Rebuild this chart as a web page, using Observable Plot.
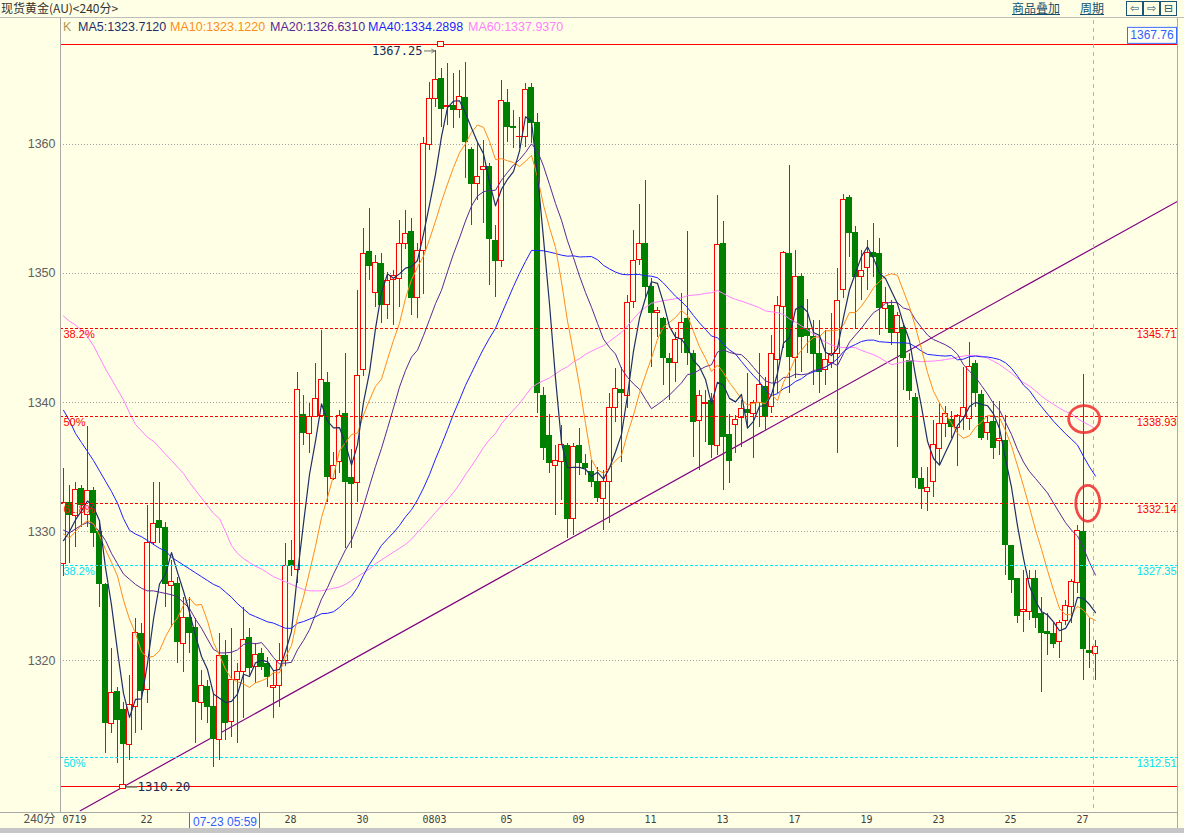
<!DOCTYPE html>
<html><head><meta charset="utf-8">
<script src="https://cdn.jsdelivr.net/npm/d3@7"></script>
<script src="https://cdn.jsdelivr.net/npm/@observablehq/plot@0.6"></script>
<style>
html,body{margin:0;padding:0;background:#FFFFE6;}
#wrap{position:relative;width:1184px;height:833px;overflow:hidden;background:#FFFFE6;font-family:"Liberation Sans",Arial,sans-serif;}
#wrap svg{position:absolute;left:0;top:0;}
.abs{position:absolute;white-space:nowrap;}
.hdr{left:0;top:0;width:1184px;height:17px;border-bottom:1px solid #bdbdbd;}
.title{left:1px;top:0px;font:12px "Noto Sans CJK SC",sans-serif;color:#333;line-height:15px;}
.lnk{top:0px;font:12px "Noto Sans CJK SC",sans-serif;color:#17506e;line-height:15px;text-decoration:underline;}
.ico{top:1px;width:15px;height:13px;border:1px solid #1d5574;font:11px "DejaVu Sans",sans-serif;color:#1d5574;line-height:13px;text-align:center;}
.leg{top:19px;font-size:12.5px;line-height:16px;}
.vline{background:#a9a9a9;width:1px;}
.hline{background:#a9a9a9;height:1px;}
</style></head>
<body>
<div id="wrap"></div>
<script>
// ---- candle data (240-minute bars) ----
const open = [1327.49,1332.28,1331.24,1333.35,1331.31,1333.17,1330.02,1325.86,1315.09,1317.59,
1316.2,1313.46,1316.38,1322.06,1317.72,1329.09,1330.85,1330.28,1325.81,1325.99,
1321.29,1323.3,1322.58,1316.71,1318.01,1316.46,1313.85,1320.38,1315.22,1318.5,
1319.14,1321.75,1319.48,1320.51,1319.79,1317.88,1318.01,1320.0,1327.75,1327.0,
1339.07,1337.52,1338.91,1338.99,1341.57,1334.04,1335.37,1339.13,1334.16,1333.74,
1342.53,1351.73,1348.5,1350.75,1347.57,1349.53,1349.58,1352.3,1353.25,1348.09,
1351.78,1359.97,1363.54,1365.09,1362.9,1363.02,1362.69,1363.67,1359.58,1356.95,
1358.03,1358.29,1352.56,1350.95,1363.28,1361.39,1360.55,1360.57,1364.39,1361.73,
1340.54,1337.44,1335.06,1335.38,1336.67,1330.98,1336.67,1335.25,1334.68,1333.88,
1332.53,1333.83,1339.56,1340.98,1340.49,1347.78,1351.06,1352.35,1348.99,1346.95,
1346.49,1343.44,1343.05,1344.94,1346.49,1343.83,1338.56,1339.89,1340.15,1336.59,
1352.35,1337.52,1338.22,1338.76,1339.43,1339.12,1339.95,1341.24,1339.64,1343.31,
1347.44,1351.52,1343.44,1349.79,1345.71,1345.14,1343.77,1342.53,1343.05,1343.77,
1348.73,1355.87,1353.2,1349.72,1350.44,1351.65,1351.52,1347.26,1347.52,1345.38,
1345.79,1343.26,1340.36,1334.09,1333.05,1333.83,1336.41,1338.35,1338.66,1338.04,
1338.87,1338.74,1343.0,1340.62,1337.63,1338.53,1337.04,1337.06,1328.92,1326.33,
1323.8,1323.75,1326.33,1323.62,1322.25,1322.12,1321.42,1323.1,1324.14,1326.0,
1330.03,1320.78,1320.52];
const high = [1334.86,1333.57,1333.83,1333.6,1338.14,1333.4,1330.85,1326.0,1320.9,1317.9,
1316.77,1318.83,1323.23,1322.84,1332.01,1333.82,1333.82,1330.72,1327.75,1326.46,
1324.9,1324.9,1323.23,1319.22,1318.44,1317.41,1322.06,1321.55,1322.45,1319.74,
1324.13,1322.45,1321.29,1320.9,1320.25,1319.22,1321.34,1329.05,1329.3,1342.35,
1340.54,1339.9,1343.05,1345.58,1342.35,1336.15,1339.38,1343.77,1336.34,1348.68,
1353.46,1355.01,1351.39,1351.52,1350.1,1350.23,1354.1,1354.88,1354.24,1352.3,
1360.57,1364.83,1367.29,1365.86,1366.25,1365.48,1365.73,1366.38,1359.8,1360.05,
1360.3,1358.5,1353.72,1364.96,1364.24,1362.63,1362.1,1364.7,1364.75,1362.43,
1341.19,1339.1,1336.67,1338.2,1336.8,1336.8,1337.96,1336.0,1335.5,1335.0,
1334.73,1340.67,1342.61,1342.7,1348.3,1353.33,1355.35,1357.2,1349.6,1347.4,
1346.61,1343.77,1345.45,1348.42,1353.28,1344.03,1340.93,1340.93,1340.67,1356.05,
1354.06,1339.1,1338.99,1340.15,1342.22,1340.15,1343.77,1341.96,1345.2,1348.22,
1351.73,1358.37,1351.78,1349.97,1347.96,1346.36,1346.36,1345.58,1346.93,1350.36,
1356.12,1356.05,1353.64,1351.78,1352.56,1353.85,1352.69,1348.94,1347.91,1347.0,
1345.97,1343.77,1340.67,1335.0,1334.99,1338.6,1339.9,1339.7,1339.3,1339.07,
1342.74,1344.68,1343.26,1340.93,1338.87,1340.08,1340.08,1339.0,1328.92,1326.33,
1326.98,1326.98,1326.98,1324.91,1323.62,1322.85,1323.1,1324.65,1326.26,1330.47,
1342.17,1323.23,1321.55];
const low = [1326.5,1327.5,1328.78,1330.3,1330.28,1328.78,1324.13,1312.76,1314.31,1311.98,
1310.2,1312.24,1314.31,1314.57,1316.64,1328.91,1329.04,1324.13,1322.58,1319.74,
1319.09,1320.51,1313.54,1315.34,1315.09,1311.73,1312.24,1313.79,1314.05,1313.54,
1315.47,1318.83,1318.19,1319.22,1317.93,1315.47,1316.38,1319.5,1326.5,1326.0,
1336.67,1336.02,1338.8,1338.9,1332.28,1333.96,1334.47,1328.66,1328.66,1332.28,
1342.0,1349.46,1347.4,1346.1,1346.4,1345.97,1347.39,1351.83,1346.74,1346.48,
1348.4,1359.5,1362.9,1361.34,1361.47,1361.21,1361.99,1357.34,1353.72,1355.66,
1353.9,1349.07,1348.16,1350.49,1360.18,1359.66,1359.66,1359.79,1360.05,1339.17,
1335.5,1334.47,1331.24,1332.4,1329.43,1329.69,1334.34,1334.34,1333.44,1332.28,
1330.08,1330.6,1338.48,1335.38,1339.51,1347.26,1350.62,1348.17,1342.74,1345.07,
1341.32,1340.16,1341.58,1343.77,1342.87,1335.76,1334.73,1336.93,1335.63,1335.9,
1333.18,1333.7,1336.02,1336.54,1338.09,1335.63,1338.09,1337.83,1339.12,1340.67,
1344.16,1340.67,1341.84,1342.35,1343.77,1341.32,1340.67,1341.32,1342.61,1336.02,
1348.04,1351.27,1345.71,1347.91,1348.68,1349.72,1345.2,1345.71,1344.42,1336.54,
1340.93,1340.15,1333.31,1331.7,1331.55,1332.66,1335.2,1337.3,1337.2,1335.04,
1337.83,1337.83,1339.64,1337.06,1337.06,1335.56,1335.9,1326.59,1325.17,1322.9,
1322.2,1323.1,1322.46,1317.55,1320.39,1320.91,1320.13,1322.72,1322.85,1325.17,
1318.45,1319.36,1318.45];
const close = [1332.22,1331.24,1333.23,1332.0,1333.17,1329.87,1325.86,1315.09,1317.49,1315.34,
1313.46,1316.56,1322.11,1317.62,1329.12,1330.59,1330.2,1325.86,1326.07,1321.42,
1323.3,1322.06,1316.77,1318.01,1316.38,1313.85,1320.33,1315.14,1318.5,1319.14,
1321.6,1319.4,1320.44,1319.48,1318.65,1318.06,1319.94,1327.36,1327.28,1340.98,
1337.57,1338.91,1340.28,1341.76,1334.21,1335.04,1338.99,1333.83,1333.62,1342.09,
1351.52,1350.57,1350.83,1347.52,1349.4,1349.84,1352.25,1353.07,1348.09,1351.78,
1360.05,1363.54,1365.01,1362.69,1362.95,1362.63,1363.67,1360.18,1356.9,1357.47,
1358.24,1352.63,1350.95,1363.36,1361.34,1361.21,1360.6,1364.24,1361.6,1340.67,
1336.41,1335.25,1335.5,1336.67,1330.9,1336.54,1335.25,1334.86,1333.83,1332.53,
1333.83,1339.56,1341.06,1340.67,1347.7,1350.96,1352.25,1348.94,1346.93,1347.06,
1343.44,1343.05,1344.86,1346.15,1343.77,1338.48,1340.54,1340.0,1336.67,1352.17,
1337.31,1335.45,1338.66,1339.51,1339.12,1339.95,1341.32,1338.86,1343.77,1347.47,
1351.6,1343.52,1349.72,1345.07,1345.12,1343.7,1342.35,1343.26,1343.77,1347.85,
1355.71,1353.13,1349.72,1350.23,1351.58,1351.27,1347.26,1347.7,1345.33,1346.67,
1343.44,1340.88,1334.08,1333.23,1333.39,1336.72,1338.3,1339.12,1338.04,1338.92,
1339.59,1342.79,1340.73,1337.24,1338.4,1336.46,1337.14,1328.92,1326.21,1323.41,
1323.88,1326.33,1323.28,1322.12,1322.02,1321.24,1322.9,1324.19,1326.08,1330.03,
1320.83,1320.57,1321.04];

// ---- moving-average lines ----
const ma5 = [1329.3,1330.0,1330.9,1331.6,1332.37,1331.90,1330.83,1327.20,1324.30,1320.73,
1317.45,1315.59,1316.99,1317.02,1319.77,1323.20,1325.93,1326.68,1328.37,1326.83,
1325.37,1323.74,1321.92,1320.31,1319.30,1317.41,1317.07,1316.74,1316.84,1317.39,
1318.94,1318.76,1319.82,1320.01,1319.91,1319.21,1319.31,1320.70,1322.26,1326.72,
1330.63,1334.42,1337.00,1339.90,1338.55,1338.04,1338.06,1336.77,1335.14,1336.71,
1340.01,1342.33,1345.73,1348.51,1349.97,1349.63,1349.97,1350.42,1350.53,1351.01,
1353.05,1355.31,1357.69,1360.61,1362.85,1363.36,1363.39,1362.42,1361.27,1360.17,
1359.29,1357.08,1355.24,1356.53,1357.30,1357.90,1359.49,1362.15,1361.80,1357.66,
1352.70,1347.63,1341.89,1336.90,1334.95,1334.97,1334.97,1334.84,1334.28,1334.60,
1334.06,1334.92,1336.16,1337.53,1340.56,1343.99,1346.53,1348.10,1349.36,1349.23,
1347.72,1345.88,1345.07,1344.91,1344.25,1343.26,1342.76,1341.79,1339.89,1341.57,
1341.34,1340.32,1340.05,1340.62,1338.01,1338.54,1339.71,1339.75,1340.60,1342.27,
1344.60,1345.04,1347.22,1347.48,1347.01,1345.43,1345.19,1343.90,1343.64,1344.19,
1346.59,1348.74,1350.04,1351.33,1352.07,1351.19,1350.01,1349.61,1348.63,1347.65,
1346.08,1344.80,1342.08,1339.66,1337.00,1335.66,1335.14,1336.15,1337.11,1338.22,
1338.79,1339.69,1340.01,1339.85,1339.75,1339.12,1337.99,1335.63,1333.43,1330.43,
1327.91,1325.75,1324.62,1323.80,1323.53,1323.00,1322.31,1322.49,1323.29,1324.89,
1324.81,1324.34,1323.71];
const ma10 = [1329.8,1329.5,1330.0,1330.5,1330.85,1330.6,1329.7,1328.6,1327.6,1326.55,
1324.68,1323.21,1322.10,1320.66,1320.25,1320.32,1320.76,1321.84,1322.69,1323.30,
1324.29,1324.84,1324.30,1324.34,1323.07,1321.39,1320.41,1319.33,1318.58,1318.35,
1318.18,1317.91,1318.28,1318.43,1318.65,1319.07,1319.04,1320.26,1321.14,1323.32,
1324.92,1326.87,1328.85,1331.08,1332.64,1334.33,1336.24,1336.89,1337.52,1337.63,
1339.03,1340.19,1341.25,1341.82,1343.34,1344.82,1346.15,1348.07,1349.52,1350.49,
1351.34,1352.64,1354.06,1355.57,1356.93,1358.21,1359.35,1360.06,1360.94,1361.51,
1361.33,1360.24,1358.83,1358.90,1358.74,1358.60,1358.29,1358.69,1359.16,1357.48,
1355.30,1353.56,1352.02,1349.35,1346.31,1343.84,1341.30,1338.37,1335.59,1334.77,
1334.52,1334.95,1335.50,1335.90,1337.58,1339.03,1340.73,1342.13,1343.44,1344.90,
1345.86,1346.21,1346.59,1347.13,1346.74,1345.49,1344.32,1343.43,1342.40,1342.91,
1342.30,1341.54,1340.92,1340.26,1339.79,1339.94,1340.02,1339.90,1340.61,1340.14,
1341.57,1342.38,1343.48,1344.04,1344.64,1345.02,1345.12,1345.56,1345.56,1345.60,
1346.01,1346.97,1346.97,1347.48,1348.13,1348.89,1349.38,1349.82,1349.98,1349.86,
1348.63,1347.41,1345.84,1344.14,1342.33,1340.87,1339.97,1339.12,1338.39,1337.61,
1337.23,1337.42,1338.08,1338.48,1338.99,1338.96,1338.84,1337.82,1336.64,1335.09,
1333.52,1331.87,1330.13,1328.62,1326.98,1325.46,1324.03,1323.56,1323.55,1324.21,
1323.90,1323.33,1323.10];
const ma20 = [1330.1,1329.9,1330.2,1330.5,1330.7,1330.5,1330.0,1329.3,1328.3,1327.5,
1326.7,1326.3,1325.9,1325.6,1325.4,1325.4,1325.3,1325.2,1325.1,1324.93,
1324.49,1324.03,1323.20,1322.50,1321.66,1320.86,1320.59,1320.59,1320.64,1320.83,
1321.24,1321.38,1321.29,1321.39,1320.86,1320.23,1319.73,1319.80,1319.86,1320.84,
1321.55,1322.39,1323.57,1324.76,1325.65,1326.70,1327.64,1328.58,1329.33,1330.48,
1331.98,1333.53,1335.05,1336.45,1337.99,1339.58,1341.20,1342.48,1343.52,1344.06,
1345.19,1346.42,1347.66,1348.70,1350.14,1351.52,1352.75,1354.07,1355.23,1356.00,
1356.34,1356.44,1356.45,1357.24,1357.84,1358.41,1358.82,1359.38,1360.05,1359.50,
1358.32,1356.90,1355.43,1354.13,1352.53,1351.22,1349.80,1348.53,1347.38,1346.13,
1344.91,1344.26,1343.76,1342.63,1341.95,1341.44,1341.02,1340.25,1339.52,1339.84,
1340.19,1340.58,1341.05,1341.52,1342.16,1342.26,1342.53,1342.78,1342.92,1343.91,
1344.08,1343.88,1343.76,1343.70,1343.27,1342.72,1342.17,1341.67,1341.51,1341.53,
1341.94,1341.96,1342.20,1342.15,1342.22,1342.48,1342.57,1342.73,1343.09,1342.87,
1343.79,1344.68,1345.23,1345.76,1346.39,1346.96,1347.25,1347.69,1347.77,1347.73,
1347.32,1347.19,1346.41,1345.81,1345.23,1344.88,1344.68,1344.47,1344.19,1343.74,
1342.93,1342.42,1341.96,1341.31,1340.66,1339.92,1339.41,1338.47,1337.52,1336.35,
1335.38,1334.65,1334.11,1333.55,1332.99,1332.21,1331.44,1330.69,1330.10,1329.65,
1328.71,1327.60,1326.62];
const ma40 = [1339.4,1338.6,1337.6,1336.9,1336.2,1335.5,1334.7,1333.9,1333.1,1332.2,
1331.0,1330.1,1329.8,1329.6,1329.3,1329.0,1328.7,1328.5,1328.0,1327.7,
1327.4,1327.1,1326.8,1326.5,1326.2,1325.9,1325.7,1325.3,1324.9,1324.4,
1324.0,1323.6,1323.4,1323.2,1323.0,1322.9,1322.7,1322.5,1322.5,1322.89,
1323.02,1323.21,1323.39,1323.63,1323.66,1323.78,1324.12,1324.59,1324.99,1325.66,
1326.61,1327.46,1328.17,1328.92,1329.43,1329.91,1330.47,1331.14,1331.69,1332.45,
1333.37,1334.41,1335.62,1336.73,1337.90,1339.11,1340.20,1341.33,1342.28,1343.24,
1344.16,1344.99,1345.75,1346.85,1347.92,1349.00,1350.01,1350.93,1351.79,1351.78,
1351.76,1351.66,1351.55,1351.42,1351.34,1351.37,1351.28,1351.30,1351.31,1351.07,
1350.63,1350.35,1350.11,1349.94,1349.90,1349.93,1349.92,1349.82,1349.79,1349.67,
1349.26,1348.74,1348.24,1347.83,1347.35,1346.74,1346.17,1345.66,1345.15,1345.02,
1344.50,1344.07,1343.76,1343.17,1342.61,1342.08,1341.60,1340.96,1340.52,1340.69,
1341.07,1341.27,1341.63,1341.84,1342.19,1342.37,1342.55,1342.76,1343.01,1343.39,
1343.94,1344.28,1344.50,1344.73,1344.83,1344.84,1344.71,1344.68,1344.64,1344.63,
1344.63,1344.58,1344.31,1343.98,1343.73,1343.68,1343.63,1343.60,1343.64,1343.31,
1343.36,1343.55,1343.60,1343.54,1343.53,1343.44,1343.33,1343.08,1342.65,1342.04,
1341.35,1340.92,1340.26,1339.68,1339.11,1338.55,1338.06,1337.58,1337.15,1336.70,
1335.82,1335.01,1334.29];
const ma60 = [1346.7,1346.3,1346.0,1345.6,1345.1,1344.4,1343.5,1342.6,1341.8,1341.0,
1340.2,1339.2,1338.3,1337.8,1337.3,1337.0,1336.5,1336.0,1335.5,1335.0,
1334.5,1333.8,1333.2,1332.6,1332.0,1331.4,1331.0,1330.0,1328.9,1328.3,
1327.9,1327.6,1327.3,1327.1,1326.8,1326.5,1326.3,1326.1,1325.9,1325.7,
1325.5,1325.4,1325.4,1325.4,1325.5,1325.6,1325.7,1325.9,1326.2,1326.5,
1326.8,1327.1,1327.5,1327.8,1328.1,1328.4,1328.7,1329.0,1329.4,1329.94,
1330.41,1330.95,1331.48,1331.99,1332.48,1333.03,1333.66,1334.41,1335.07,1335.77,
1336.52,1337.12,1337.60,1338.36,1338.90,1339.41,1339.92,1340.55,1341.14,1341.47,
1341.69,1341.90,1342.22,1342.53,1342.77,1343.15,1343.40,1343.73,1343.98,1344.20,
1344.41,1344.74,1345.09,1345.44,1345.93,1346.48,1347.01,1347.37,1347.70,1347.80,
1347.90,1347.97,1348.05,1348.12,1348.28,1348.33,1348.36,1348.46,1348.51,1348.68,
1348.44,1348.19,1347.99,1347.86,1347.69,1347.52,1347.34,1347.10,1347.03,1346.96,
1346.82,1346.48,1346.23,1345.93,1345.64,1345.32,1344.97,1344.68,1344.46,1344.30,
1344.26,1344.27,1344.25,1344.03,1343.87,1343.71,1343.48,1343.20,1342.93,1343.03,
1343.15,1343.24,1343.22,1343.16,1343.20,1343.21,1343.26,1343.33,1343.40,1343.51,
1343.60,1343.66,1343.65,1343.59,1343.44,1343.20,1342.94,1342.61,1342.27,1341.87,
1341.55,1341.27,1340.91,1340.50,1340.15,1339.86,1339.56,1339.30,1339.13,1338.75,
1338.48,1338.23,1337.94];

// ---- labels and levels ----
const legendNames = ["MA5","MA10","MA20","MA40","MA60"];
const legendValues = ["1323.7120","1323.1220","1326.6310","1334.2898","1337.9370"];
const xTickBars = [0,13,37,49,60,73,85,97,109,121,133,145,157,169];
const xTickLabels = ["0719","22","28","30","0803","05","09","11","13","17","19","23","25","27"];
const yTicks = [1320,1330,1340,1350,1360];
const redLevels = [1345.71,1338.93,1332.14];
const redPct = ["38.2%","50%","61.8%"];
const cyanLevels = [1327.35,1312.51];
const cyanPct = ["38.2%","50%"];
const boundLevels = [1367.76,1310.20];
const trendBars = [2.8,185.7];
const trendPrices = [1308.36,1355.6];
const highMark = {bar:62, price:1367.25, label:"1367.25"};
const lowMark = {bar:10, price:1310.20, label:"1310.20"};
const cursorBar = 171.75;
const cursorLabel = "07-23 05:59";
const cursorLabelBar = 27;
const circleBars = [170.2,170.8];
const circlePrices = [1338.68,1332.15];

// ---- drawing ----
const bg = "#FFFFE6";
const N = close.length;
const bars = d3.range(N).map(i => ({i, o: open[i], h: high[i], l: low[i], c: close[i]}));
const ups = bars.filter(d => d.c >= d.o), downs = bars.filter(d => d.c < d.o);
const maColors = ["#1e2f66","#ff8c1a","#5a2896","#1f1fff","#ff80ff"];
const maArrays = [ma5, ma10, ma20, ma40, ma60];
const trend = trendBars.map((b,k) => ({b, p: trendPrices[k]}));
const mono = "DejaVu Sans Mono, Liberation Mono, monospace";
const crisp = {shapeRendering: "crispEdges"};

const chart = Plot.plot({
  width: 1184, height: 833,
  marginTop: 20, marginBottom: 21, marginLeft: 60, marginRight: 7,
  style: {background: "transparent", overflow: "visible", fontFamily: "Liberation Sans, Arial, sans-serif"},
  x: {type: "linear", domain: [-0.5, 185.6667], axis: null},
  y: {domain: [1308.22, 1369.61], axis: null},
  marks: [
    Plot.ruleY(yTicks, {stroke: "#a0a0a0", strokeDasharray: "1,2", ...crisp}),
    Plot.line(trend, {x: "b", y: "p", stroke: "#800080", strokeWidth: 1.2, clip: true}),
    Plot.ruleX(downs, {x: "i", y1: "l", y2: "h", stroke: "#008000", ...crisp}),
    Plot.ruleX(ups, {x: "i", y1: "l", y2: "h", stroke: "#ff0000", ...crisp}),
    Plot.rect(downs, {x1: d => d.i - 0.42, x2: d => d.i + 0.42, y1: "o", y2: "c", fill: "#008000", ...crisp}),
    Plot.rect(ups, {x1: d => d.i - 0.36, x2: d => d.i + 0.36, y1: "o", y2: "c", fill: bg, stroke: "#ff0000", ...crisp}),
    ...maArrays.map((arr, k) => Plot.line(d3.range(N), {x: i => i, y: i => arr[i], stroke: maColors[k], strokeWidth: k === 0 ? 1.2 : 1})).reverse(),
    Plot.ruleY(redLevels, {stroke: "#ff0000", strokeDasharray: "3,2", ...crisp}),
    Plot.ruleY(cyanLevels, {stroke: "#00eaff", strokeDasharray: "3,2", ...crisp}),
    Plot.ruleY(boundLevels, {stroke: "#ff0000", ...crisp}),
    Plot.ruleX([cursorBar], {stroke: "#b4b4b4", strokeDasharray: "4,4", ...crisp}),
    // level labels
    Plot.text(redLevels, {y: d => d, text: (d, k) => redPct[k], frameAnchor: "left", textAnchor: "start", dx: 3, dy: 6, fill: "#ff0000", fontSize: 11}),
    Plot.text(cyanLevels, {y: d => d, text: (d, k) => cyanPct[k], frameAnchor: "left", textAnchor: "start", dx: 3, dy: 6, fill: "#00e0f0", fontSize: 11}),
    Plot.text(redLevels, {y: d => d, text: d => d.toFixed(2), frameAnchor: "right", textAnchor: "end", dx: -1, dy: 6, fill: "#ff0000", fontSize: 11}),
    Plot.text(cyanLevels, {y: d => d, text: d => d.toFixed(2), frameAnchor: "right", textAnchor: "end", dx: -1, dy: 6, fill: "#00e0f0", fontSize: 11}),
    // axes labels
    Plot.text(yTicks, {y: d => d, text: d => String(d), frameAnchor: "left", textAnchor: "end", dx: -5, fill: "#606060", fontSize: 12.5}),
    Plot.text(xTickBars, {x: d => d, text: (d, k) => xTickLabels[k], frameAnchor: "bottom", textAnchor: "start", dx: -1, dy: 10, fill: "#404040", fontSize: 10, fontFamily: mono}),
    Plot.text(["240分"], {text: d => d, frameAnchor: "bottom-left", textAnchor: "end", dx: -5, dy: 10, fill: "#555", fontSize: 12, fontFamily: "Noto Sans CJK SC, sans-serif"}),
    // extreme annotations
    Plot.arrow([highMark], {x1: d => d.bar - 1.85, x2: d => d.bar - 0.15, y1: "price", y2: "price", stroke: "#707070", headLength: 5, strokeWidth: 1}),
    Plot.text([highMark], {x: "bar", y: "price", text: "label", textAnchor: "end", dx: -13, fill: "#1a2a55", fontSize: 12, fontFamily: mono}),
    Plot.rect([boundLevels[0]], {x1: highMark.bar + 0.5, x2: highMark.bar + 1.5, y1: d => d - 0.17, y2: d => d + 0.17, fill: bg, stroke: "#ff0000", ...crisp}),
    Plot.line([lowMark.bar + 0.5, lowMark.bar + 2.2], {x: d => d, y: () => lowMark.price, stroke: "#6a8a70"}),
    Plot.rect([lowMark], {x1: d => d.bar - 0.5, x2: d => d.bar + 0.5, y1: d => d.price - 0.19, y2: d => d.price + 0.19, fill: bg, stroke: "#ff0000", ...crisp}),
    Plot.text([lowMark], {x: "bar", y: "price", text: "label", textAnchor: "start", dx: 14, fill: "#1a2a55", fontSize: 12.5, fontFamily: mono})
  ]
});

const wrap = document.getElementById("wrap");
wrap.appendChild(chart);
const sx = chart.scale("x"), sy = chart.scale("y");
const svg = d3.select(chart);

// red annotation ellipses
const radii = [[15.5, 13.5], [12, 18]];
circleBars.forEach((b, k) => {
  svg.append("ellipse").attr("cx", sx.apply(b)).attr("cy", sy.apply(circlePrices[k]))
    .attr("rx", radii[k][0]).attr("ry", radii[k][1])
    .attr("fill", "none").attr("stroke", "#ee2a2a").attr("stroke-opacity", 0.85).attr("stroke-width", 2.8);
});

// top-right price box
{
  const yb = sy.apply(boundLevels[0]);
  const g = svg.append("g");
  g.append("rect").attr("x", 1127.5).attr("y", yb - 16.5).attr("width", 49).attr("height", 16)
    .attr("fill", "#fffff4").attr("stroke", "#3d6bff");
  g.append("text").attr("x", 1152).attr("y", yb - 8.5).attr("text-anchor", "middle").attr("dominant-baseline", "central")
    .attr("font-size", 12).attr("font-family", "Liberation Sans, Arial, sans-serif").attr("fill", "#2f5fff").text(boundLevels[0].toFixed(2));
}
// cursor time box on x axis
{
  const xc = sx.apply(cursorLabelBar);
  const g = svg.append("g");
  g.append("rect").attr("x", xc - 35.5).attr("y", 812.5).attr("width", 70).attr("height", 17)
    .attr("fill", "#fffff4").attr("stroke", "#3d6bff");
  g.append("text").attr("x", xc).attr("y", 821.5).attr("text-anchor", "middle").attr("dominant-baseline", "central")
    .attr("font-size", 12).attr("font-family", "Liberation Sans, Arial, sans-serif").attr("fill", "#2f5fff").text(cursorLabel);
}

// chrome: header, legend, borders
function add(cls, style, text) {
  const d = document.createElement("div");
  d.className = "abs " + cls;
  Object.assign(d.style, style);
  if (text != null) d.textContent = text;
  wrap.appendChild(d);
  return d;
}
add("hdr", {});
add("title", {}, "现货黄金(AU)<240分>");
add("lnk", {left: "1012px"}, "商品叠加");
add("lnk", {left: "1080px"}, "周期");
add("ico", {left: "1126px"}, "⇦");
add("ico", {left: "1143px"}, "⇨");
add("ico", {left: "1160px"}, "⊟");
add("vline", {left: "60px", top: "18px", height: "794px"});
add("vline", {left: "1177px", top: "18px", height: "810px"});
add("hline", {left: "0px", top: "812px", width: "1177px"});
add("", {left: "0px", top: "828px", width: "1184px", height: "5px", background: "#c6c6c6"});
add("leg", {left: "63px", color: "#b09a5a"}, "K");
const legX = [78, 170, 270, 368, 468];
legendNames.forEach((n, k) => add("leg", {left: legX[k] + "px", color: maColors[k]}, n + ":" + legendValues[k]));
</script>
</body></html>
